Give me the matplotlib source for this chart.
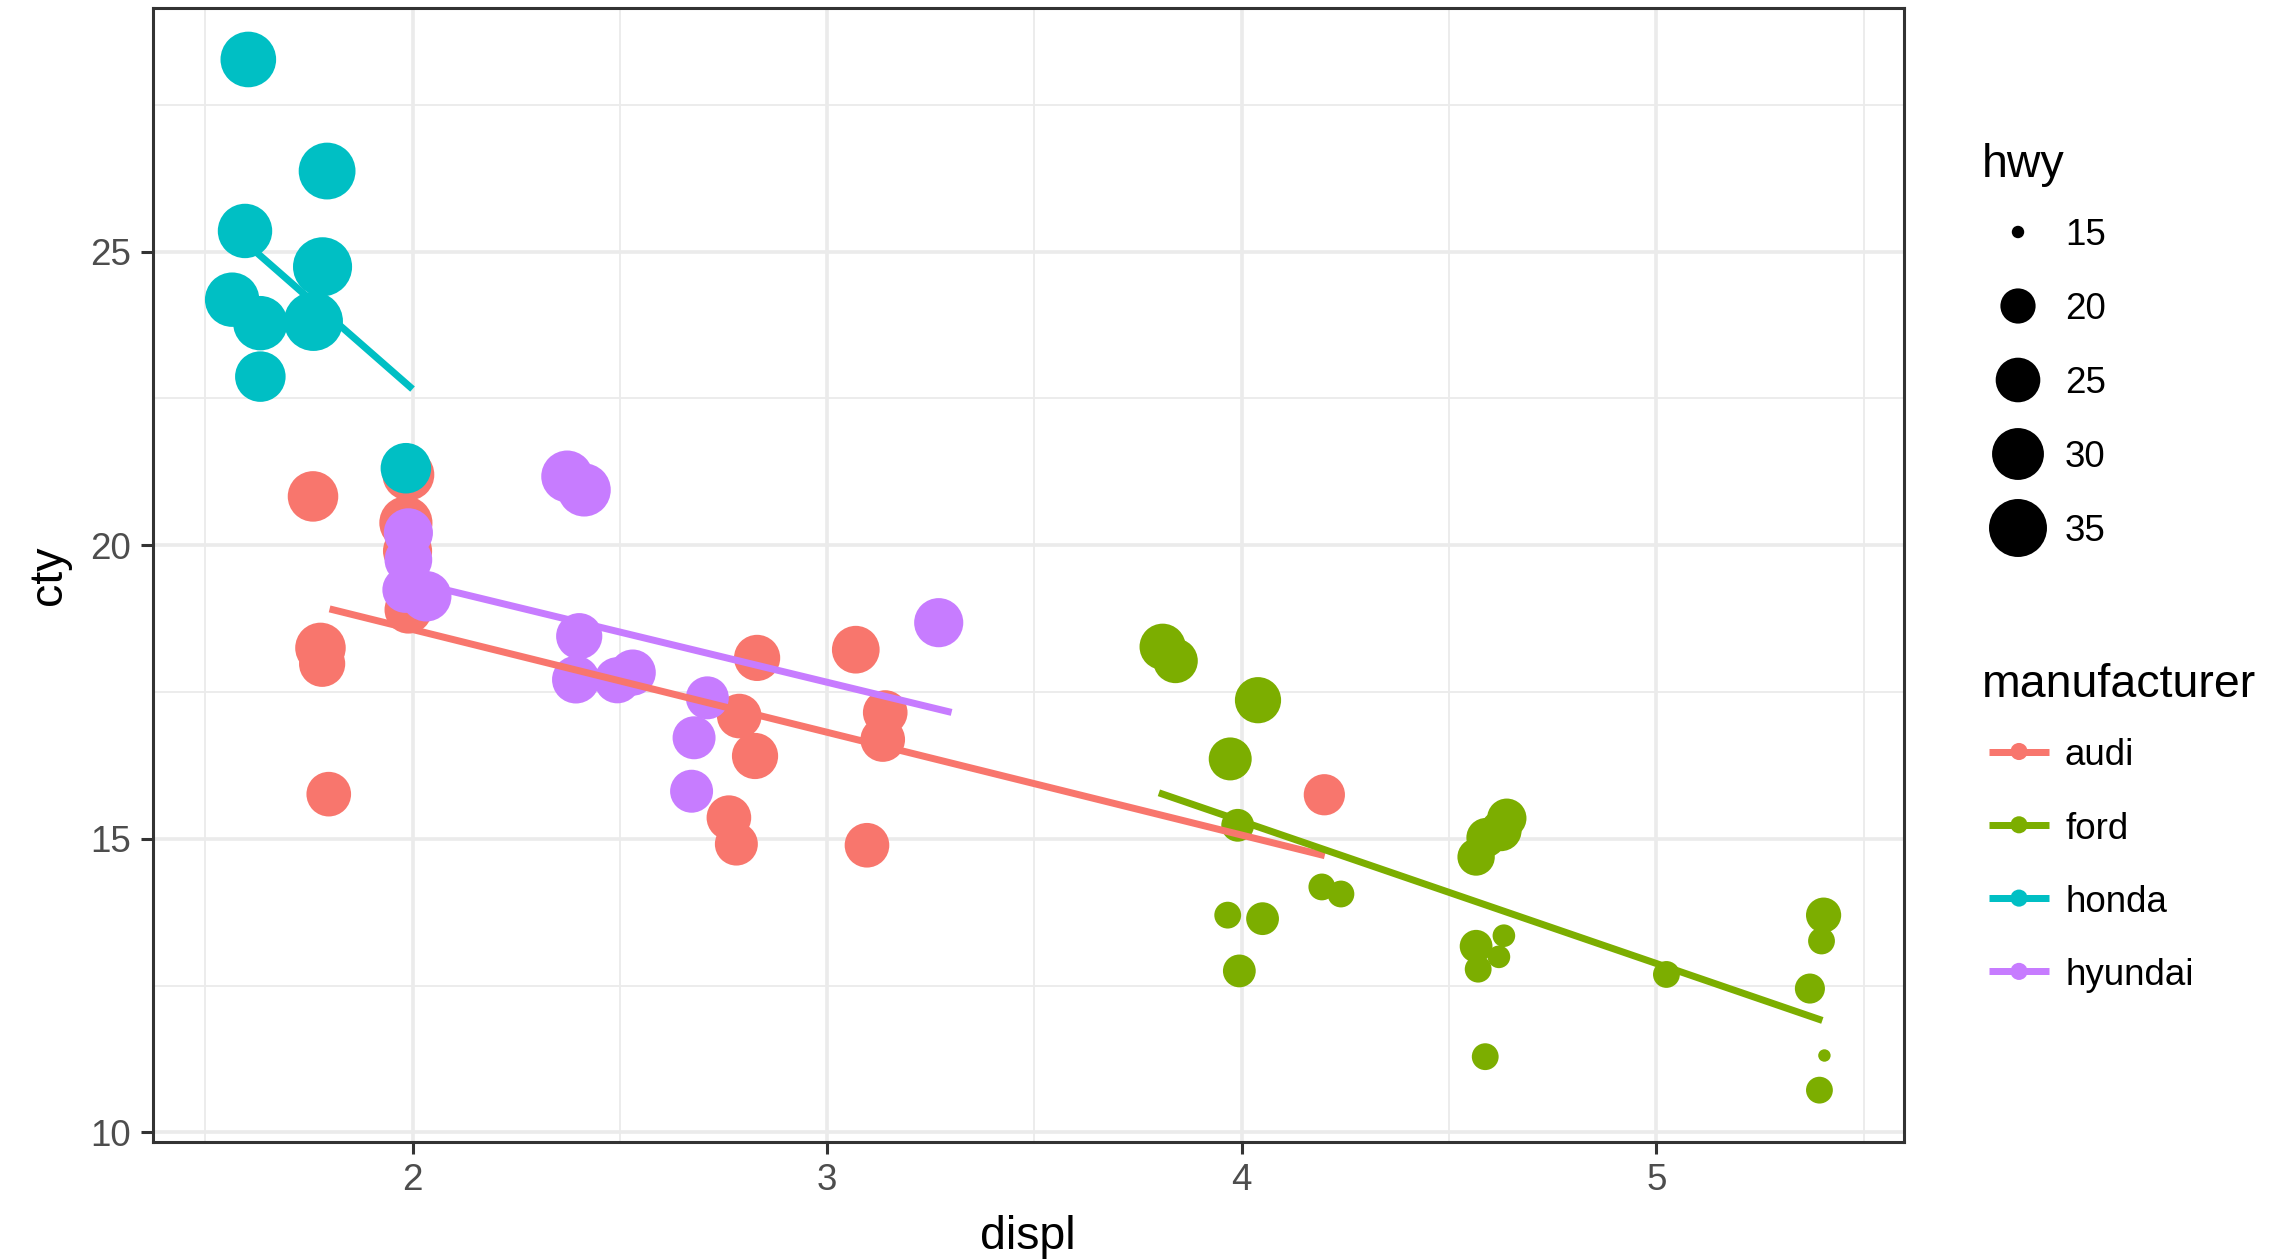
import numpy as np
import matplotlib.pyplot as plt

plt.rcParams['font.family'] = ['Liberation Sans', 'DejaVu Sans']

DPI = 100
# el original se hizo a ~236 dpi: pixeles por punto en la imagen fuente
PX_POR_PT = 3.28

fabricantes = ['audi', 'ford', 'honda', 'hyundai']
colores = ['#F8766D', '#7CAE00', '#00BFC4', '#C77CFF']

# puntos con jitter
audi_displ = [1.760, 1.990, 1.984, 1.988, 1.990, 1.778, 1.782, 1.798, 2.831,
              3.069, 2.788, 2.826, 3.140, 3.134, 2.763, 2.781, 3.096, 4.199]
audi_cty = [20.83, 21.20, 20.38, 19.90, 18.90, 18.25, 17.98, 15.76, 18.08,
            18.22, 17.09, 16.41, 17.15, 16.69, 15.36, 14.91, 14.89, 15.75]
audi_hwy = [29, 30, 31, 28, 27, 29, 26, 25, 26, 27, 25, 26, 25, 25, 25, 24, 25, 23]

ford_displ = [3.809, 3.840, 4.039, 3.972, 3.990, 3.966, 4.050, 3.994, 4.193,
              4.239, 4.565, 4.589, 4.625, 4.639, 4.565, 4.632, 4.620, 4.570,
              4.587, 5.024, 5.403, 5.398, 5.370, 5.405, 5.393]
ford_cty = [18.27, 18.03, 17.36, 16.36, 15.23, 13.70, 13.64, 12.75, 14.18,
            14.06, 14.69, 15.02, 15.14, 15.35, 13.17, 13.35, 12.99, 12.78,
            11.29, 12.69, 13.70, 13.26, 12.45, 11.31, 10.72]
ford_hwy = [26, 25, 26, 24, 19, 17, 19, 19, 17, 17, 21, 22, 23, 22, 19, 16,
            16, 17, 17, 17, 20, 17, 18, 15, 17]

honda_displ = [1.604, 1.794, 1.596, 1.783, 1.565, 1.633, 1.761, 1.633, 1.984]
honda_cty = [28.27, 26.37, 25.35, 24.74, 24.18, 23.78, 23.81, 22.87, 21.31]
honda_hwy = [33, 34, 32, 36, 32, 32, 36, 29, 29]

hyundai_displ = [2.373, 2.414, 1.990, 1.990, 1.983, 2.033, 2.402, 2.394,
                 2.494, 2.531, 2.711, 2.679, 2.673, 3.269]
hyundai_cty = [21.17, 20.94, 20.21, 19.75, 19.24, 19.13, 18.45, 17.71,
               17.70, 17.83, 17.40, 16.72, 15.81, 18.68]
hyundai_hwy = [30, 31, 28, 27, 26, 29, 26, 27, 26, 26, 24, 24, 24, 28]

hwy_cortes = [15, 20, 25, 30, 35]

datos = {
    'audi': (audi_displ, audi_cty, audi_hwy),
    'ford': (ford_displ, ford_cty, ford_hwy),
    'honda': (honda_displ, honda_cty, honda_hwy),
    'hyundai': (hyundai_displ, hyundai_cty, hyundai_hwy),
}

todos_hwy = np.concatenate([np.array(d[2]) for d in datos.values()])
hwy_min, hwy_max = todos_hwy.min(), todos_hwy.max()


def tam_marcador(hwy):
    # escala de area de ggplot (rango 1-6) -> diametro -> s en pt^2
    hwy = np.asarray(hwy, dtype=float)
    tam = 1 + 5 * np.sqrt((hwy - hwy_min) / (hwy_max - hwy_min))
    diam_px = PX_POR_PT * (2.845 * tam + 0.945)
    return (diam_px * 72 / DPI) ** 2


fig = plt.figure(figsize=(22.8, 12.6), dpi=DPI)
ax = fig.add_axes([0.0669, 0.0939, 0.7682, 0.8998])

# puntos
for fab, col in zip(fabricantes, colores):
    x, y, h = datos[fab]
    ax.scatter(x, y, s=tam_marcador(h), color=col, edgecolors='none', zorder=3)

# rectas lm, ajustadas sobre los valores sin jitter (jitter < media unidad)
grosor_linea = 7 * 72 / DPI
for fab, col in zip(fabricantes, colores):
    x, y, h = datos[fab]
    xr = np.round(np.array(x), 1)
    yr = np.round(np.array(y))
    m, b = np.polyfit(xr, yr, 1)
    xs = np.array([xr.min(), xr.max()])
    ax.plot(xs, m * xs + b, color=col, linewidth=grosor_linea,
            solid_capstyle='butt', zorder=4)

# limites con expansion del 5%
todos_x = np.concatenate([np.array(d[0]) for d in datos.values()])
todos_y = np.concatenate([np.array(d[1]) for d in datos.values()])
rx = todos_x.max() - todos_x.min()
ry = todos_y.max() - todos_y.min()
ax.set_xlim(todos_x.min() - 0.05 * rx, todos_x.max() + 0.05 * rx)
ax.set_ylim(todos_y.min() - 0.05 * ry, todos_y.max() + 0.05 * ry)

ax.set_xticks([2, 3, 4, 5])
ax.set_yticks([10, 15, 20, 25])
ax.set_xticks([1.5, 2.5, 3.5, 4.5, 5.5], minor=True)
ax.set_yticks([12.5, 17.5, 22.5, 27.5], minor=True)
ax.grid(which='major', color='#EBEBEB', linewidth=2.6, zorder=0)
ax.grid(which='minor', color='#EBEBEB', linewidth=1.3, zorder=0)
ax.set_axisbelow(True)

for lado in ax.spines.values():
    lado.set_color('#333333')
    lado.set_linewidth(2.2)

ax.tick_params(which='major', length=8.4, width=2.2, color='#333333',
               labelsize=26.5, labelcolor='#4D4D4D', pad=7)
ax.tick_params(which='minor', length=0)

ax.set_xlabel('displ', fontsize=33.5, labelpad=12)
ax.set_ylabel('cty', fontsize=33.5, labelpad=14)

# leyendas dibujadas a mano en pixeles de la figura
lax = fig.add_axes([0, 0, 1, 1])
lax.set_xlim(0, 2280)
lax.set_ylim(1260, 0)
lax.axis('off')

tx_titulo = 1982
tx_clave = 2018
tx_texto = 2065
em_texto = 26.5 * DPI / 72

lax.text(tx_titulo, 177, 'hwy', fontsize=33.5, va='baseline', ha='left')
for i, v in enumerate(hwy_cortes):
    yc = 232 + 74 * i
    lax.scatter([tx_clave], [yc], s=tam_marcador([v]), color='black',
                edgecolors='none')
    lax.text(tx_texto, yc + 0.36 * em_texto, str(v), fontsize=26.5,
             va='baseline', ha='left')

lax.text(tx_titulo, 697, 'manufacturer', fontsize=33.5, va='baseline', ha='left')
for i, (fab, col) in enumerate(zip(fabricantes, colores)):
    yc = 751.5 + 73.3 * i
    lax.plot([1989, 2049], [yc, yc], color=col, linewidth=grosor_linea,
             solid_capstyle='butt')
    lax.scatter([2019], [yc], s=(PX_POR_PT * (2.845 * 1.5 + 0.945) * 72 / DPI) ** 2,
                color=col, edgecolors='none', zorder=3)
    lax.text(tx_texto, yc + 0.38 * em_texto, fab, fontsize=26.5,
             va='baseline', ha='left')

fig.savefig('out.png', dpi=DPI)
